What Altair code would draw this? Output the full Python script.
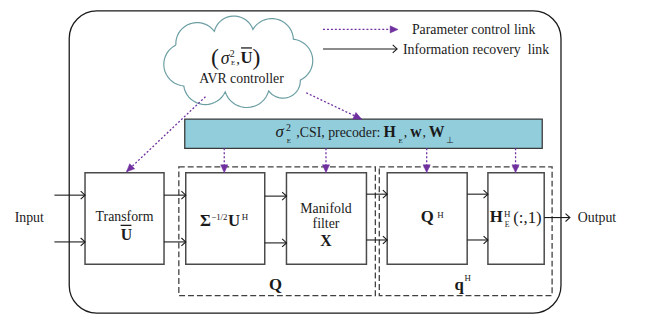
import math
import altair as alt
import pandas as pd

# ---------------- diagram content (reference pixel coordinates) ----------------
# processing blocks
box_x1 = [86, 188, 290, 392, 494]
box_x2 = [166, 268, 371, 473, 551]
box_y1 = [167, 167, 167, 167, 167]
box_y2 = [261, 261, 261, 261, 261]

# dashed groups Q and q^H
grp_x1 = [181, 384]
grp_x2 = [380, 559]
grp_y1 = [161, 161]
grp_y2 = [293, 293]

# CSI bar and outer frame
bar_box = [187, 549, 112, 142]
outer_box = [70, 568, 1, 311]

# cloud valley points (clockwise)
cloud_vx = [178, 217, 256, 297, 304, 272, 228, 186]
cloud_vy = [36, 22, 20, 30, 72, 83, 84, 78]

# information recovery links (solid, open head at end)
solid_x1 = [55, 55, 166, 166, 268, 268, 371, 371, 473, 473, 551, 327]
solid_y1 = [190, 238, 190, 238, 191, 239, 189, 236, 189, 236, 213, 40]
solid_x2 = [86, 86, 188, 188, 290, 290, 392, 392, 494, 494, 577, 402]
solid_y2 = [190, 238, 190, 238, 191, 239, 189, 236, 189, 236, 213, 40]

# overbars on U
bar_lx1 = [244, 122]
bar_lx2 = [255, 133]
bar_ly = [39, 221]

# parameter control links (dotted purple, filled head at end)
dot_x1 = [208, 310, 227, 330, 432, 522, 327]
dot_y1 = [89, 85, 142, 142, 142, 142, 20]
dot_x2 = [128, 366, 227, 330, 432, 522, 403]
dot_y2 = [166, 112, 167, 167, 167, 167, 20]

# text pieces: text, x, baseline y, size, weight, style, align
texts = [
    ("Parameter control link", 417, 25, 14, "normal", "normal", "left"),
    ("Information recovery\u00a0 link", 408, 45, 14, "normal", "normal", "left"),
    ("(", 217.5, 56, 24, "normal", "normal", "center"),
    ("σ", 228, 55, 18, "normal", "italic", "center"),
    ("2", 235, 48, 10, "normal", "normal", "center"),
    ("E", 236, 56, 7, "normal", "normal", "center"),
    (",", 241, 55, 15, "normal", "normal", "center"),
    ("U", 249.5, 54, 17, "bold", "normal", "center"),
    (")", 259.5, 56, 24, "normal", "normal", "center"),
    ("AVR controller", 244.5, 75, 14, "normal", "normal", "center"),
    ("σ", 283, 130, 17, "normal", "italic", "center"),
    ("2", 292, 124, 10, "normal", "normal", "center"),
    ("E", 292.5, 136, 7, "normal", "normal", "center"),
    (",CSI, precoder:", 300, 130, 14, "normal", "normal", "left"),
    ("H", 394.5, 130, 16, "bold", "normal", "center"),
    ("E", 405.5, 136, 7, "normal", "normal", "center"),
    (",", 410.5, 130, 14, "normal", "normal", "center"),
    ("w", 421, 130, 16, "bold", "normal", "center"),
    (",", 429.5, 130, 14, "normal", "normal", "center"),
    ("W", 442, 130, 16, "bold", "normal", "center"),
    ("⊥", 455.5, 136, 9, "normal", "normal", "center"),
    ("Transform", 126, 217, 14, "normal", "normal", "center"),
    ("U", 128, 236, 16, "bold", "normal", "center"),
    ("Σ", 208, 222, 17, "bold", "normal", "center"),
    ("−1/2", 222, 215, 9, "normal", "normal", "center"),
    ("U", 237, 222, 17, "bold", "normal", "center"),
    ("H", 248, 216, 9, "normal", "normal", "center"),
    ("Manifold", 330, 208, 14, "normal", "normal", "center"),
    ("filter", 330, 224, 14, "normal", "normal", "center"),
    ("X", 330, 242, 16, "bold", "normal", "center"),
    ("Q", 432.5, 218, 17, "bold", "normal", "center"),
    ("H", 446, 213, 9, "normal", "normal", "center"),
    ("H", 502.5, 218, 17, "bold", "normal", "center"),
    ("H", 513.5, 212, 9, "normal", "normal", "center"),
    ("E", 513.5, 223, 8, "normal", "normal", "center"),
    ("(:,1)", 534, 219, 17, "normal", "normal", "center"),
    ("Input", 29.5, 218, 14, "normal", "normal", "center"),
    ("Output", 585, 218, 14, "normal", "normal", "left"),
    ("Q", 279, 287, 17, "bold", "normal", "center"),
    ("q", 465, 287, 17, "bold", "normal", "center"),
    ("H", 473.5, 278, 9, "normal", "normal", "center"),
]

FONT = "Liberation Serif"
INK = "#1a1a1a"
PURPLE = "#7030A0"

# ---------------- helpers ----------------
def arc_points(ax, ay, bx, by, k=0.52, n=18):
    dx, dy = bx - ax, by - ay
    c = math.hypot(dx, dy)
    r = k * c
    h = math.sqrt(max(r * r - c * c / 4, 0))
    nx, ny = -dy / c, dx / c
    cx, cy = (ax + bx) / 2 + nx * h, (ay + by) / 2 + ny * h
    a0 = math.atan2(ay - cy, ax - cx)
    a1 = math.atan2(by - cy, bx - cx)
    d = (a1 - a0) % (2 * math.pi)
    return [(cx + r * math.cos(a0 + d * i / n), cy + r * math.sin(a0 + d * i / n)) for i in range(n + 1)]

cloud_pts = []
m = len(cloud_vx)
for i in range(m):
    j = (i + 1) % m
    pts = arc_points(cloud_vx[i], cloud_vy[i], cloud_vx[j], cloud_vy[j])
    cloud_pts.extend(pts if i == 0 else pts[1:])
cloud_df = pd.DataFrame({"x": [p[0] for p in cloud_pts], "y": [p[1] for p in cloud_pts],
                         "i": list(range(len(cloud_pts)))})

xs = alt.Scale(domain=[8, 647], nice=False, zero=False)
ys = alt.Scale(domain=[0, 312], nice=False, zero=False, reverse=True)

def X(f):
    return alt.X(f, type="quantitative", scale=xs, axis=None)

def Y(f):
    return alt.Y(f, type="quantitative", scale=ys, axis=None)

def rect_df(x1, x2, y1, y2):
    return pd.DataFrame({"x1": x1, "x2": x2, "y1": y1, "y2": y2})

def rect_enc(ch):
    return ch.encode(x=X("x1"), x2="x2:Q", y=Y("y1"), y2="y2:Q")

layers = []
layers.append(rect_enc(alt.Chart(rect_df([outer_box[0]], [outer_box[1]], [outer_box[2]], [outer_box[3]]))
                       .mark_rect(cornerRadius=28, fill="white", stroke=INK, strokeWidth=1.3)))
layers.append(alt.Chart(cloud_df).mark_line(stroke="#6B9EA3", strokeWidth=1.2)
              .encode(x=X("x"), y=Y("y"), order="i:Q"))
layers.append(rect_enc(alt.Chart(rect_df(grp_x1, grp_x2, grp_y1, grp_y2))
                       .mark_rect(fill="white", fillOpacity=0, stroke="#404040", strokeWidth=1.3,
                                  strokeDash=[6, 3])))
layers.append(rect_enc(alt.Chart(rect_df([bar_box[0]], [bar_box[1]], [bar_box[2]], [bar_box[3]]))
                       .mark_rect(fill="#92CDDC", stroke="#3a3a3a", strokeWidth=1.3)))
layers.append(rect_enc(alt.Chart(rect_df(box_x1, box_x2, box_y1, box_y2))
                       .mark_rect(fill="white", stroke="#4a4a4a", strokeWidth=1.5)))

solid_df = pd.DataFrame({"x1": solid_x1, "y1": solid_y1, "x2": solid_x2, "y2": solid_y2})
layers.append(alt.Chart(solid_df).mark_rule(color=INK, strokeWidth=1.1)
              .encode(x=X("x1"), y=Y("y1"), x2="x2:Q", y2="y2:Q"))
over_df = pd.DataFrame({"x1": bar_lx1, "x2": bar_lx2, "y1": bar_ly})
layers.append(alt.Chart(over_df).mark_rule(color=INK, strokeWidth=1.3)
              .encode(x=X("x1"), y=Y("y1"), x2="x2:Q", y2="y1:Q"))

dot_df = pd.DataFrame({"x1": dot_x1, "y1": dot_y1, "x2": dot_x2, "y2": dot_y2})
layers.append(alt.Chart(dot_df).mark_rule(color=PURPLE, strokeWidth=1.3, strokeDash=[2, 2])
              .encode(x=X("x1"), y=Y("y1"), x2="x2:Q", y2="y2:Q"))

def head_angles(x1, y1, x2, y2):
    return [math.degrees(math.atan2(b2 - b1, a2 - a1)) % 360 for a1, b1, a2, b2 in zip(x1, y1, x2, y2)]

dhead = pd.DataFrame({"x": dot_x2, "y": dot_y2, "ang": head_angles(dot_x1, dot_y1, dot_x2, dot_y2)})
layers.append(alt.Chart(dhead).mark_point(shape="M0,0L-2,-0.9L-2,0.9Z", filled=True, fill=PURPLE,
                                          stroke=PURPLE, strokeWidth=0.5, size=64, opacity=1)
              .encode(x=X("x"), y=Y("y"), angle=alt.Angle("ang:Q", scale=None)))
shead = pd.DataFrame({"x": solid_x2, "y": solid_y2, "ang": head_angles(solid_x1, solid_y1, solid_x2, solid_y2)})
layers.append(alt.Chart(shead).mark_point(shape="M-1.1,-1L0,0L-1.1,1", filled=False, stroke=INK,
                                          strokeWidth=1.1, size=64, opacity=1)
              .encode(x=X("x"), y=Y("y"), angle=alt.Angle("ang:Q", scale=None)))

tdf = pd.DataFrame(texts, columns=["text", "x", "y", "size", "weight", "style", "align"])
for (wt, st, al), g in tdf.groupby(["weight", "style", "align"]):
    layers.append(alt.Chart(g).mark_text(font=FONT, fontWeight=wt, fontStyle=st, align=al,
                                         baseline="alphabetic", color=INK)
                  .encode(x=X("x"), y=Y("y"), text="text:N",
                          size=alt.Size("size:Q", scale=None, legend=None)))

chart = alt.layer(*layers).properties(
    width=639, height=308, padding=0,
    autosize=alt.AutoSizeParams(type="none"), background="white",
).configure_view(stroke=None)

chart.save("out.html", embed_options={"renderer": "svg", "actions": False})
